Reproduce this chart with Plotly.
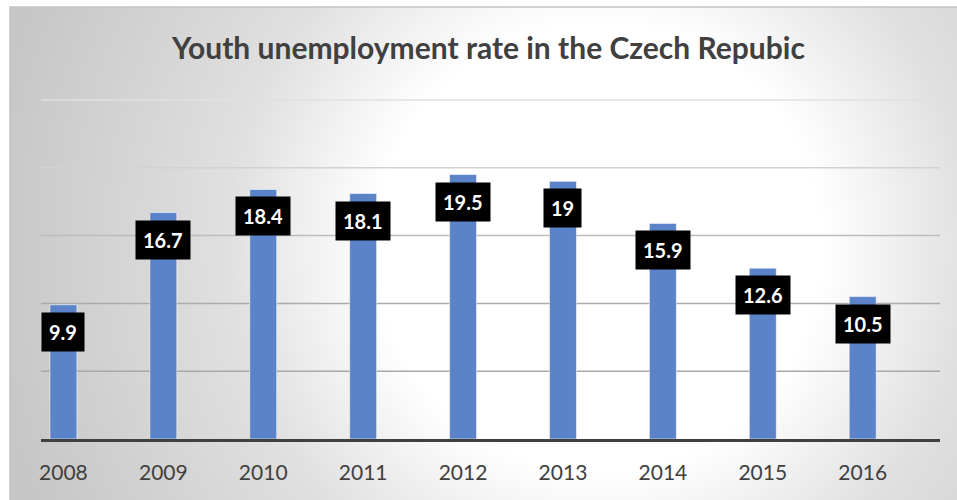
import base64
import plotly.graph_objects as go

years = ["2008", "2009", "2010", "2011", "2012", "2013", "2014", "2015", "2016"]
rates = [9.9, 16.7, 18.4, 18.1, 19.5, 19, 15.9, 12.6, 10.5]
title_text = "Youth unemployment rate in the Czech Repubic"

# horizontal guide lines and their shading (fading towards the top)
grid_values = [5, 10, 15, 20, 25]
grid_colors = ["#a8a8a8", "#ababab", "#bcbcbc", "#d2d2d2", "#e0e0e0"]

W, H = 957, 500
FONT = "Lato, 'Open Sans', sans-serif"
BAR_BLUE = "#5B83C9"
TEXT_GREY = "#404040"

# soft radial backdrop for the chart area
svg = """<svg xmlns='http://www.w3.org/2000/svg' width='949' height='493' viewBox='0 0 949 493' preserveAspectRatio='none'>
<defs><radialGradient id='g' gradientUnits='userSpaceOnUse' cx='590' cy='240' r='620'>
<stop offset='0' stop-color='#ffffff'/>
<stop offset='0.36' stop-color='#ffffff'/>
<stop offset='0.6' stop-color='#e0e0e0'/>
<stop offset='1' stop-color='#c6c6c6'/>
</radialGradient></defs>
<rect x='0' y='0' width='949' height='493' fill='url(#g)'/>
</svg>"""
bg_src = "data:image/svg+xml;base64," + base64.b64encode(svg.encode()).decode()

positions = list(range(len(years)))

# y scale: value 0 sits at 439 px, 25 at 100 px from the top
Y_MAX = 25.3
px_per_unit = (439 - 100) / 25
y_top_px = 439 - Y_MAX * px_per_unit

fig = go.Figure()
fig.add_trace(go.Bar(
    x=positions, y=rates, width=0.27,
    marker=dict(color=BAR_BLUE, line=dict(color="rgba(255,255,255,0.55)", width=1)),
    customdata=years, hovertemplate="%{customdata}: %{y}<extra></extra>",
))

for i, v in zip(positions, rates):
    fig.add_annotation(
        x=i, y=v, xref="x", yref="y", yshift=-27,
        text=f"<b>{v:g}</b>", showarrow=False, yanchor="middle",
        font=dict(family=FONT, size=20, color="white"),
        bgcolor="black", borderpad=7,
    )

fig.add_annotation(
    x=487.5 / W, y=1 - 47 / H, xref="paper", yref="paper",
    text=f"<b>{title_text}</b>", showarrow=False,
    xanchor="center", yanchor="middle",
    font=dict(family=FONT, size=30, color=TEXT_GREY),
)

shapes = [dict(type="rect", xref="paper", yref="paper",
               x0=8 / W, x1=1.2, y0=-0.2, y1=1 - 7 / H,
               line=dict(color="#c4c4c4", width=1.5), layer="below")]
for gv, gc in zip(grid_values, grid_colors):
    shapes.append(dict(type="line", xref="x domain", yref="y",
                       x0=0, x1=1, y0=gv, y1=gv,
                       line=dict(color=gc, width=1.5), layer="below"))

fig.update_layout(
    width=W, height=H,
    margin=dict(l=0, r=0, t=0, b=0),
    paper_bgcolor="white", plot_bgcolor="rgba(0,0,0,0)",
    showlegend=False,
    images=[dict(source=bg_src, xref="paper", yref="paper",
                 x=8 / W, y=1 - 7 / H, sizex=(W - 8) / W, sizey=(H - 7) / H,
                 xanchor="left", yanchor="top", sizing="stretch", layer="below")],
    shapes=shapes,
    xaxis=dict(
        domain=[39 / W, 940 / W], range=[-0.225, 8.774],
        tickmode="array", tickvals=positions, ticktext=years,
        showline=True, linecolor=TEXT_GREY, linewidth=3,
        showgrid=False, zeroline=False, ticks="", ticklabelstandoff=13,
        tickfont=dict(family=FONT, size=21, color=TEXT_GREY),
    ),
    yaxis=dict(
        domain=[1 - 439 / H, 1 - y_top_px / H], range=[0, Y_MAX],
        showticklabels=False, zeroline=False, showgrid=False,
    ),
)

fig.write_html("out.html")
